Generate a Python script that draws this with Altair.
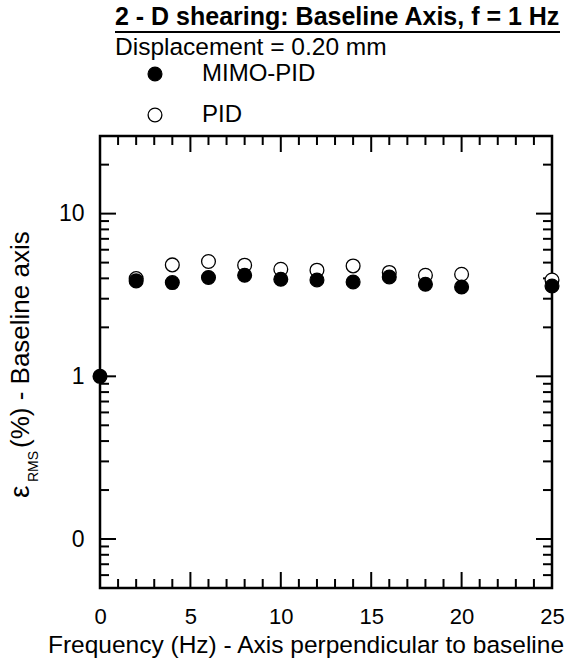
import altair as alt
import pandas as pd

# ---- data ----
freq_mimo = [0, 2, 4, 6, 8, 10, 12, 14, 16, 18, 20, 25]
err_mimo = [1.0, 3.86, 3.77, 4.05, 4.18, 3.95, 3.91, 3.80, 4.08, 3.68, 3.54, 3.59]
freq_pid = [2, 4, 6, 8, 10, 12, 14, 16, 18, 20, 25]
err_pid = [3.99, 4.84, 5.08, 4.82, 4.55, 4.49, 4.77, 4.35, 4.18, 4.24, 3.91]
series_names = ["MIMO-PID", "PID"]

x_labels = [0, 5, 10, 15, 20, 25]
y_labels = [0.1, 1, 10]
x_minor = [1, 2, 3, 4, 6, 7, 8, 9, 11, 12, 13, 14, 16, 17, 18, 19, 21, 22, 23, 24]
y_minor = [0.06, 0.07, 0.08, 0.09, 0.2, 0.3, 0.4, 0.5, 0.6, 0.7, 0.8, 0.9,
           2, 3, 4, 5, 6, 7, 8, 9, 20]

title_text = "2 - D shearing: Baseline Axis, f = 1 Hz"
subtitle_text = "Displacement = 0.20 mm"
x_title = "Frequency (Hz) - Axis perpendicular to baseline"
y_title_main = "ε"
y_title_sub = "RMS"
y_title_rest = "(%) - Baseline axis"

# ---- layout ----
W = H = 452
FONT = "Liberation Sans"
MAJ = 16
MIN = 9

xs = alt.Scale(domain=[0, 25], nice=False, zero=False)
ys = alt.Scale(type="log", domain=[0.05, 30], nice=False)

x_axis = alt.Axis(values=x_labels, title=None, grid=False, domain=False, ticks=False,
                  tickSize=0, labelPadding=18, labelFontSize=22, labelFont=FONT,
                  labelColor="black", labelFlush=False)
y_axis = alt.Axis(values=y_labels, format=".0f", title=None, grid=False, domain=False,
                  ticks=False, tickSize=0, labelPadding=16, labelFontSize=23,
                  labelFont=FONT, labelColor="black")


def xticks(vals, length):
    df = pd.DataFrame({"v": vals})
    base = alt.Chart(df).mark_rule(color="black", strokeWidth=2)
    bottom = base.encode(x=alt.X("v:Q", scale=xs, axis=x_axis),
                         y=alt.value(H), y2=alt.value(H - length))
    top = base.encode(x=alt.X("v:Q", scale=xs, axis=x_axis),
                      y=alt.value(0), y2=alt.value(length))
    return [bottom, top]


def yticks(vals, length):
    df = pd.DataFrame({"v": vals})
    base = alt.Chart(df).mark_rule(color="black", strokeWidth=2)
    left = base.encode(y=alt.Y("v:Q", scale=ys, axis=y_axis),
                       x=alt.value(0), x2=alt.value(length))
    right = base.encode(y=alt.Y("v:Q", scale=ys, axis=y_axis),
                        x=alt.value(W - length), x2=alt.value(W))
    return [left, right]


tick_layers = (xticks(x_labels, MAJ) + xticks(x_minor, MIN)
               + yticks(y_labels, MAJ) + yticks(y_minor, MIN))

pts_df = pd.DataFrame({
    "freq": freq_pid + freq_mimo,
    "err": err_pid + err_mimo,
    "series": ["PID"] * len(freq_pid) + ["MIMO-PID"] * len(freq_mimo),
})

points = alt.Chart(pts_df).mark_circle(size=190, stroke="black", strokeWidth=1.3,
                                       opacity=1).encode(
    x=alt.X("freq:Q", scale=xs, axis=x_axis),
    y=alt.Y("err:Q", scale=ys, axis=y_axis),
    fill=alt.Fill("series:N",
                  scale=alt.Scale(domain=series_names, range=["black", "white"]),
                  legend=alt.Legend(orient="none", legendX=43, legendY=-74, title=None,
                                    labelFont=FONT, labelFontSize=24, labelColor="black",
                                    symbolType="circle", symbolSize=190,
                                    symbolStrokeColor="black", symbolStrokeWidth=1.3,
                                    symbolOpacity=1, labelOffset=35, rowPadding=17,
                                    padding=0, direction="vertical")),
)


def label(text, x, y, size, **kw):
    return alt.Chart(pd.DataFrame({"t": [text]})).mark_text(
        fontSize=size, font=FONT, color="black", **kw
    ).encode(text="t:N", x=alt.value(x), y=alt.value(y))


title = label(title_text, 15, -111, 25, fontWeight="bold", align="left",
              baseline="alphabetic")
underline = alt.Chart(pd.DataFrame({"t": [title_text]})).mark_rule(
    color="black", strokeWidth=2).encode(x=alt.value(15), x2=alt.value(460),
                                         y=alt.value(-104))
subtitle = label(subtitle_text, 15, -81, 24.5, align="left", baseline="alphabetic")
xlab = label(x_title, 206, 517, 24.5, align="center", baseline="alphabetic")
ylab1 = label(y_title_main, -71, 362, 28, angle=270, align="left", baseline="alphabetic")
ylab2 = label(y_title_sub, -62, 346, 14, angle=270, align="left", baseline="alphabetic")
ylab3 = label(y_title_rest, -71, 312, 26, angle=270, align="left", baseline="alphabetic")

chart = alt.layer(
    *tick_layers, points, title, underline, subtitle, xlab, ylab1, ylab2, ylab3
).properties(
    width=W, height=H,
    autosize=alt.AutoSizeParams(type="none"),
    padding={"left": 100, "top": 136, "right": 20, "bottom": 72},
    background="white",
).configure_view(stroke="black", strokeWidth=2.5)

chart.save("out.html", embed_options={"renderer": "svg", "actions": False})
